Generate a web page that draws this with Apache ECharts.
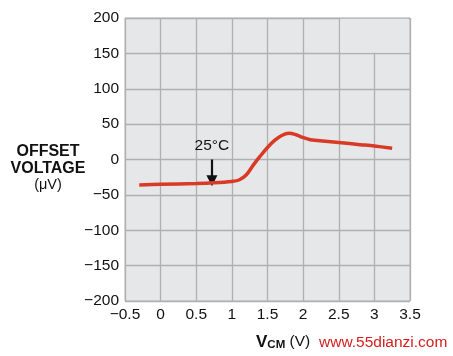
<!DOCTYPE html>
<html><head><meta charset="utf-8">
<script src="https://cdn.jsdelivr.net/npm/echarts@6/dist/echarts.min.js"></script>
<style>html,body{margin:0;padding:0;background:#fff}#c{width:453px;height:356px}</style>
</head><body><div id="c"></div>
<script>
const vcm = [-0.3, 0, 0.5, 0.75, 1.0, 1.1, 1.2, 1.3, 1.4, 1.5, 1.6, 1.7, 1.8, 1.9, 2.0, 2.1, 2.2, 2.5, 2.8, 3.0, 3.25];
const offset = [-36, -35, -34, -33, -31, -29, -22, -8, 5, 17, 27, 34, 37, 35, 31, 28, 27, 24, 21, 19, 16];
const xTicks = [-0.5, 0, 0.5, 1, 1.5, 2, 2.5, 3, 3.5];
const yTicks = [-200, -150, -100, -50, 0, 50, 100, 150, 200];
const tempLabel = '25°C';
const arrowX = 0.72;

const fmt = v => String(v).replace('-', '\u2212');
const chart = echarts.init(document.getElementById('c'));
chart.setOption({
  animation: false,
  grid: {left: 125, top: 18, right: 43, bottom: 55, show: true, backgroundColor: '#e6e7e9', borderColor: '#b8b8b8', borderWidth: 1},
  xAxis: {type: 'value', min: xTicks[0], max: xTicks[xTicks.length-1], interval: 0.5,
    axisLine: {show: false}, axisTick: {show: false},
    splitLine: {lineStyle: {color: '#b0b0b0', width: 1.3}},
    axisLabel: {formatter: fmt, color: '#111', fontSize: 15.5, fontFamily: 'Liberation Sans, Arial', margin: 6}},
  yAxis: {type: 'value', min: yTicks[0], max: yTicks[yTicks.length-1], interval: 50,
    axisLine: {show: false}, axisTick: {show: false},
    splitLine: {lineStyle: {color: '#b0b0b0', width: 1.3}},
    axisLabel: {formatter: fmt, color: '#111', fontSize: 15.5, fontFamily: 'Liberation Sans, Arial', margin: 6}},
  series: [{
    type: 'line', data: vcm.map((x, i) => [x, offset[i]]), smooth: 0.35, showSymbol: false,
    lineStyle: {color: '#d93a26', width: 3.5}, z: 5,
    markArea: {silent: true, itemStyle: {color: '#e6e7e9'}, data: [[{coord: [2.52, 151]}, {coord: [3.48, 199]}]]},
    markLine: {silent: true, symbol: ['none', 'triangle'], symbolSize: [11, 11], label: {show: false},
      lineStyle: {color: '#111', width: 2.2, type: 'solid'},
      data: [[{coord: [arrowX, 0]}, {coord: [arrowX, -30]}]]},
    markPoint: {silent: true, symbol: 'circle', symbolSize: 0,
      label: {show: true, formatter: tempLabel, color: '#111', fontSize: 15.5, fontFamily: 'Liberation Sans, Arial'},
      data: [{coord: [arrowX, 20]}]}
  }],
  graphic: [
    {type: 'text', x: 348, y: 27, style: {
      rich: {v: {fontSize: 15.5, fill: '#111', fontFamily: 'Liberation Sans, Arial'}, s: {fontSize: 11, fill: '#111', fontFamily: 'Liberation Sans, Arial', padding: [6, 0, 0, 0]}},
      text: '{v|V}{s|CM}{v|=3}'}},
    {type: 'text', x: 48, y: 143, style: {text: 'OFFSET\nVOLTAGE', font: 'bold 16px Liberation Sans, Arial', fill: '#111', align: 'center', lineHeight: 17}},
    {type: 'text', x: 48, y: 177, style: {text: '(μV)', font: '14.5px Liberation Sans, Arial', fill: '#111', align: 'center'}},
    {type: 'text', x: 256, y: 333, style: {
      rich: {v: {fontSize: 17, fontWeight: 'bold', fill: '#111', fontFamily: 'Liberation Sans, Arial'}, s: {fontSize: 11.5, fontWeight: 'bold', fill: '#111', fontFamily: 'Liberation Sans, Arial', padding: [6, 0, 0, 0]}, n: {fontSize: 15.5, fill: '#111', fontFamily: 'Liberation Sans, Arial'}},
      text: '{v|V}{s|CM}{n| (V)}'}},
    {type: 'text', x: 317, y: 334, style: {text: 'www.55dianzi.com', font: '15.5px Liberation Sans, Arial', fill: '#d42020', backgroundColor: '#fff', padding: [1, 2]}}
  ]
});
</script></body></html>
